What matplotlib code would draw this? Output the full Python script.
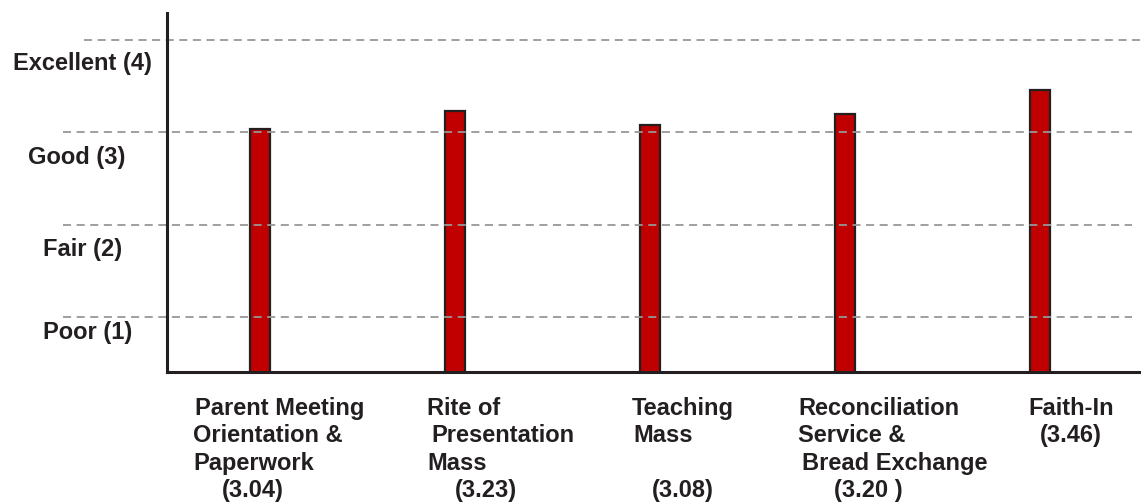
import matplotlib
matplotlib.use("Agg")
import matplotlib.pyplot as plt
import matplotlib.transforms as mtransforms

# ---- data ----
category_lines = [
    ["Parent Meeting", "Orientation &", "Paperwork", "(3.04)"],
    ["Rite of", "Presentation", "Mass", "(3.23)"],
    ["Teaching", "Mass", "", "(3.08)"],
    ["Reconciliation", "Service &", "Bread Exchange", "(3.20 )"],
    ["Faith-In", "(3.46)"],
]
values = [3.04, 3.23, 3.08, 3.20, 3.46]
rating_values = [4, 3, 2, 1]
rating_labels = ["Excellent (4)", "Good (3)", "Fair (2)", "Poor (1)"]

# ---- layout (pixels) ----
W, H, DPI = 1141, 504, 100
line_x = [
    [195, 193, 193, 222],
    [427, 431, 427, 455],
    [632, 633, 633, 652],
    [798, 798, 802, 834],
    [1028, 1040],
]
label_left_px = [13, 28, 43, 43]
label_drop_px = [30, 31.5, 31, 22]
grid_start_px = [84, 63, 63, 63]
grid_end_px = [1141, 1132, 1132, 1132]

TXT = "#231f20"
FONT = "Liberation Sans"
FS = 17

plt.rcParams["lines.scale_dashes"] = False
fig = plt.figure(figsize=(W / DPI, H / DPI), dpi=DPI)
ax = fig.add_axes([167 / W, (H - 372) / H, (W - 167) / W, (372 - 13) / H])

x = list(range(len(values)))
ax.bar(x, values, width=0.1026, color="#c00000", edgecolor="#231f20",
       linewidth=1.6, zorder=2)

ax.set_xlim(-0.477, 4.518)
ax.set_ylim(0.403, 4.291)
ax.set_xticks([])
ax.set_yticks([])
for s in ["top", "right"]:
    ax.spines[s].set_visible(False)
for s in ["left", "bottom"]:
    ax.spines[s].set_linewidth(2.2)
    ax.spines[s].set_color(TXT)
    ax.spines[s].set_zorder(4)

# gridlines (extend left of the axis)
axw = (W - 167)
gtrans = mtransforms.blended_transform_factory(ax.transAxes, ax.transData)
for v, xs, xe in zip(rating_values, grid_start_px, grid_end_px):
    ax.plot([(xs - 167) / axw, (xe - 167) / axw], [v, v], transform=gtrans,
            color="#979797", linewidth=1.3, linestyle=(0, (5.8, 4.0)),
            clip_on=False, zorder=3)

# rating labels
ltrans = mtransforms.blended_transform_factory(fig.transFigure, ax.transData)
for v, lab, lx, dy in zip(rating_values, rating_labels, label_left_px, label_drop_px):
    t = ltrans + mtransforms.ScaledTranslation(0, -dy / DPI, fig.dpi_scale_trans)
    fig.text(lx / W, v, lab, transform=t, ha="left", va="baseline",
             fontsize=FS, fontweight="bold", family=FONT, color=TXT)

# category labels
for lines, xs in zip(category_lines, line_x):
    for i, (ln, lx) in enumerate(zip(lines, xs)):
        if not ln:
            continue
        by = 415 + 27.3 * i
        fig.text(lx / W, 1 - by / H, ln, ha="left", va="baseline",
                 fontsize=FS, fontweight="bold", family=FONT, color=TXT)

fig.savefig("out.png", dpi=DPI)
